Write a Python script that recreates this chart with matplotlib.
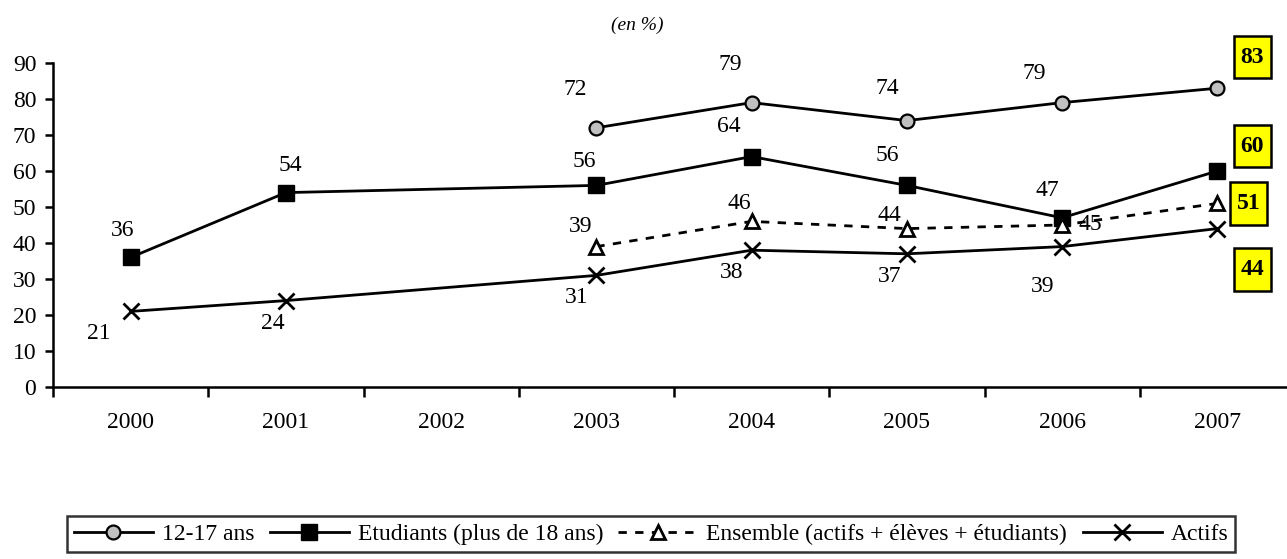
import matplotlib.pyplot as plt
import numpy as np
from matplotlib.path import Path

plt.rcParams['font.family'] = ['Liberation Serif', 'DejaVu Serif']

# data (None = no survey that year)
years = ['2000', '2001', '2002', '2003', '2004', '2005', '2006', '2007']
ados = [None, None, None, 72, 79, 74, 79, 83]
etudiants = [36, 54, None, 56, 64, 56, 47, 60]
ensemble = [None, None, None, 39, 46, 44, 45, 51]
actifs = [21, 24, None, 31, 38, 37, 39, 44]

series_names = ['12-17 ans', 'Etudiants (plus de 18 ans)',
                'Ensemble (actifs + élèves + étudiants)', 'Actifs']

# label offsets in pixels (dx, dy) for each point
off_ados = [None, None, None, (-21, 38), (-21, 38), (-20, 32), (-28, 29), (35, 31)]
off_etud = [(-8, 27), (4, 27), None, (-12, 24), (-23, 30), (-20, 30), (-15, 27), (35, 25)]
off_ens = [None, None, None, (-16, 20), (-12, 18), (-17, 13), (28, 1), (31, 0)]
off_act = [(-32, -22), (-13, -23), None, (-20, -22), (-20, -22), (-17, -23), (-20, -40), (35, -41)]


def tall_box(x0, y0, width, height, mutation_size):
    # rectangle with more padding vertically than horizontally
    px = 0.27 * mutation_size
    py = 0.45 * mutation_size
    x0, y0 = x0 - px, y0 - py
    x1, y1 = x0 + width + 2 * px, y0 + height + 2 * py
    return Path([(x0, y0), (x1, y0), (x1, y1), (x0, y1), (x0, y0)], closed=True)


fig = plt.figure(figsize=(12.87, 5.59), dpi=100)
ax = fig.add_axes([53 / 1287, 172 / 559, (1295 - 53) / 1287, 324 / 559])

styles = [
    dict(marker='o', ms=10, mfc='#c0c0c0', mec='black', mew=1.6, ls='-'),
    dict(marker='s', ms=11, mfc='black', mec='black', ls='-'),
    dict(marker='^', ms=10, mfc='white', mec='black', mew=2, ls=(0, (3, 3))),
    dict(marker='x', ms=12, mec='black', mew=2, ls='-'),
]
all_vals = [ados, etudiants, ensemble, actifs]
all_offs = [off_ados, off_etud, off_ens, off_act]

for name, vals, offs, st in zip(series_names, all_vals, all_offs, styles):
    xs = [i for i, v in enumerate(vals) if v is not None]
    ys = [vals[i] for i in xs]
    ax.plot(xs, ys, color='black', lw=2, label=name, clip_on=False, **st)
    for i in xs:
        dx, dy = offs[i]
        if i == len(years) - 1:
            ax.annotate(str(vals[i]), (i, vals[i]), xytext=(dx, dy),
                        textcoords='offset pixels', ha='center', va='center',
                        fontsize=17, fontweight='bold',
                        bbox=dict(boxstyle=tall_box, fc='#ffff00',
                                  ec='black', lw=1.8))
        else:
            ax.annotate(str(vals[i]), (i, vals[i]), xytext=(dx, dy),
                        textcoords='offset pixels', ha='center', va='center',
                        fontsize=17)

ax.set_xlim(-0.5, len(years) - 0.5)
ax.set_ylim(0, 90)
ax.set_yticks(np.arange(0, 91, 10))
ax.set_xticks(np.arange(len(years) + 1) - 0.5)
ax.set_xticklabels([])
ax.set_xticks(np.arange(len(years)), minor=True)
ax.set_xticklabels(years, minor=True)
ax.tick_params(axis='x', which='major', length=7, width=1.8, direction='out')
ax.tick_params(axis='x', which='minor', length=0, pad=18, labelsize=17)
ax.tick_params(axis='y', length=6, width=1.8, direction='out', pad=6, labelsize=17)

for s in ['top', 'right']:
    ax.spines[s].set_visible(False)
for s in ['left', 'bottom']:
    ax.spines[s].set_linewidth(1.8)

fig.text(637 / 1287, 1 - 25 / 559, '(en %)', ha='center', va='center',
         fontsize=14, style='italic')

leg = fig.legend(loc='center', bbox_to_anchor=(651 / 1287, 1 - 534 / 559),
                 ncol=4, fontsize=17, frameon=True, fancybox=False,
                 edgecolor='black', handlelength=3.35, handletextpad=0.38,
                 columnspacing=0.65, borderpad=0.3, borderaxespad=0)
leg.get_frame().set_linewidth(1.8)

fig.savefig('out.png', dpi=100)
